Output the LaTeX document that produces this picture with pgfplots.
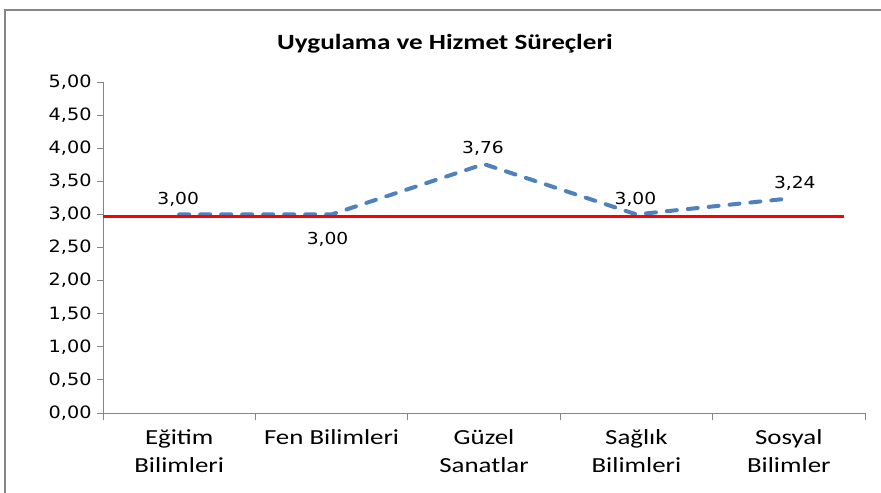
\documentclass[border=0pt]{standalone}
\usepackage{pgfplots}
\pgfplotsset{compat=1.18}
\usepackage{fontspec}
\setmainfont{Carlito}
\newfontfamily\calib[FakeStretch=1.25]{Carlito}
\newfontfamily\verd[FakeStretch=1.13]{DejaVu Sans}
\definecolor{excelblue}{HTML}{4F81BD}
\definecolor{axisgray}{HTML}{868686}

\begin{document}
\begin{tikzpicture}
\begin{axis}[
  at={(103bp,80bp)}, anchor=south west,
  scale only axis, width=762bp, height=331bp,
  xmin=-0.5, xmax=4.5, ymin=0, ymax=5,
  axis x line*=bottom, axis y line*=left,
  axis line style={axisgray, line width=0.8bp},
  every tick/.style={axisgray, line width=0.8bp},
  tick align=outside,
  ytick={0,0.5,...,5},
  major tick length=6bp,
  minor tick length=7bp,
  xtick={0,1,2,3,4},
  xticklabels={{Eğitim\\Bilimleri},{Fen Bilimleri},{Güzel\\Sanatlar},{Sağlık\\Bilimleri},{Sosyal\\Bilimler}},
  x tick style={draw=none},
  minor xtick={-0.5,0.5,1.5,2.5,3.5,4.5},
  minor x tick style={draw=axisgray, line width=0.8bp},
  xticklabel style={font=\calib\fontsize{21.5bp}{28bp}\selectfont, align=center, text=black, yshift=-7bp},
  yticklabel style={font=\verd\fontsize{17bp}{20bp}\selectfont, text=black, xshift=-2bp},
  /pgf/number format/.cd, fixed, fixed zerofill, precision=2, use comma, assume math mode=true,
  /pgfplots/.cd,
  clip=false,
  every node near coord/.append style={font=\verd\fontsize{16.5bp}{20bp}\selectfont, text=black, inner sep=4bp},
]
\addplot[excelblue, line width=4bp, dash pattern=on 10bp off 11bp, line cap=round]
  coordinates {(0,3.00) (1,3.00) (2,3.76) (3,3.00) (4,3.24)};
\addplot[draw=none, nodes near coords, nodes near coords align={above},
  every node near coord/.append style={xshift=-1bp, yshift=4bp}]
  coordinates {(0,3.00) (2,3.76) (3,3.00)};
\addplot[draw=none, nodes near coords, nodes near coords align={above},
  every node near coord/.append style={xshift=6bp, yshift=4bp}]
  coordinates {(4,3.24)};
\addplot[draw=none, nodes near coords, nodes near coords align={below},
  every node near coord/.append style={xshift=-4bp, yshift=-14bp}]
  coordinates {(1,3.00)};
\addplot[red, line width=2.5bp] coordinates {(-0.5,2.97) (4.36,2.97)};
\end{axis}
\node[font=\calib\bfseries\fontsize{21.7bp}{26bp}\selectfont] at (445bp,449bp) {Uygulama ve Hizmet Süreçleri};
\draw[axisgray, line width=2.5bp] (5bp,-20bp) |- (900bp,483bp);
\pgfresetboundingbox
\path[use as bounding box] (0,0) rectangle (881bp,493bp);
\end{tikzpicture}
\end{document}
